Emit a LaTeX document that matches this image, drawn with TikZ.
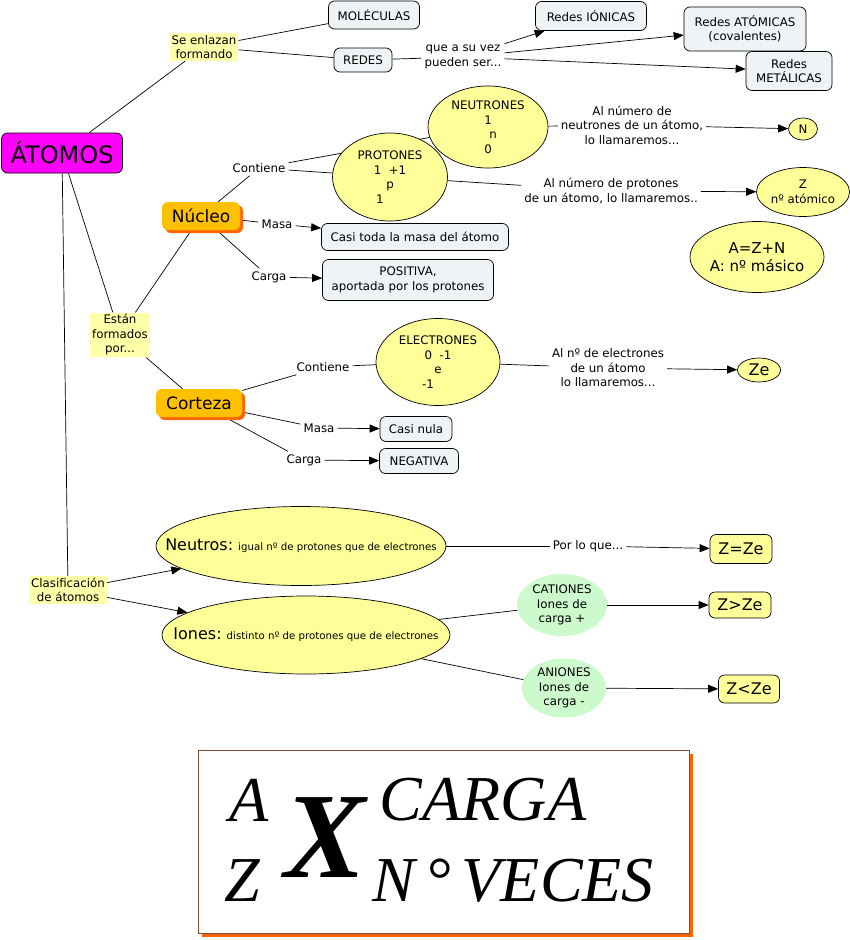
\documentclass[tikz,border=0pt]{standalone}
\usepackage{fontspec}
\setmainfont{DejaVu Sans}
\newfontfamily\formulafont{Liberation Serif}
\usetikzlibrary{arrows.meta,shapes.geometric,backgrounds,shadows}
\definecolor{Magenta}{HTML}{FF00FF}
\definecolor{LYellow}{HTML}{FFFFAA}
\definecolor{EYellow}{HTML}{FFFF99}
\definecolor{CGray}{HTML}{EEF3F6}
\definecolor{NOrange}{HTML}{FFC000}
\definecolor{DOrange}{HTML}{FF6600}
\definecolor{LGreen}{HTML}{CCFACC}
\definecolor{Edge}{HTML}{7F4F2F}

\begin{document}
\begin{tikzpicture}[x=1pt, y=-1pt, font=\fontsize{11.8}{14.5}\selectfont,
    concepto/.style={draw, line width=0.7pt, rounded corners=6pt, fill=CGray, align=center, inner sep=1pt},
    enlace/.style={align=center, inner sep=3pt},
    enlacefondo/.style={align=center, inner sep=2pt, fill=LYellow},
    particula/.style={ellipse, draw, line width=0.7pt, fill=EYellow, align=center, inner sep=0pt},
    ion/.style={ellipse, fill=LGreen, align=center, inner sep=0pt},
    resultado/.style={draw, line width=0.7pt, rounded corners=6pt, fill=EYellow, align=center, inner sep=0pt, font=\fontsize{16}{18}\selectfont},
    parte/.style={rounded corners=6pt, fill=NOrange, inner sep=0pt, font=\fontsize{17}{20}\selectfont,
        drop shadow={shadow xshift=3pt, shadow yshift=-3pt, fill=DOrange, opacity=1}},
    simbolo/.style={inner sep=0pt, font=\formulafont\itshape\fontsize{64}{64}\selectfont},
    linea/.style={line width=0.7pt},
    flecha/.style={linea, -{Triangle[length=10pt, width=8pt]}}
]
\useasboundingbox (0,0) rectangle (850,940);

% concepto principal
\node[concepto, fill=Magenta, minimum width=121pt, minimum height=40pt, font=\fontsize{24}{28}\selectfont] (atomos) at (62,153) {ÁTOMOS};

% enlaces
\node[enlacefondo] (enlazan) at (204,47) {Se enlazan\\formando};
\node[concepto, minimum width=91pt, minimum height=28pt] (moleculas) at (374,15) {MOLÉCULAS};
\node[concepto, minimum width=58pt, minimum height=24pt] (redes) at (363,60) {REDES};
\node[enlace] (puedenser) at (463,57) {que a su vez\\pueden ser...};
\node[concepto, minimum width=111pt, minimum height=29pt] (ionicas) at (591,16) {Redes IÓNICAS};
\node[concepto, minimum width=122pt, minimum height=44pt] (atomicas) at (745,29) {Redes ATÓMICAS\\(covalentes)};
\node[concepto, minimum width=86pt, minimum height=39pt] (metalicas) at (789,71) {Redes\\METÁLICAS};

% nucleo
\node[particula, minimum width=120pt, minimum height=82pt] (neutrones) at (488,127) {NEUTRONES\\1\\\hspace*{10pt}n\\0};
\node[particula, minimum width=115pt, minimum height=88pt] (protones) at (390,177) {PROTONES\\1~~+1\\p\\1\hspace*{20pt}};
\node[enlace] (alneutrones) at (632,125) {Al número de\\neutrones de un átomo,\\lo llamaremos...};
\node[particula, minimum width=29pt, minimum height=22pt] (nneutrones) at (803,129) {N};
\node[enlace] (alprotones) at (611,191) {Al número de protones\\de un átomo, lo llamaremos..};
\node[particula, minimum width=93pt, minimum height=49pt] (zatomico) at (803,192) {Z\\nº atómico};
\node[particula, minimum width=134pt, minimum height=71pt, font=\fontsize{15}{18}\selectfont] (masico) at (757,257) {A=Z+N\\A: nº másico};

\node[parte, minimum width=78pt, minimum height=28pt] (nucleo) at (201,216) {Núcleo};
\node[enlace] (contiene) at (259,168) {Contiene};
\node[enlace] (masan) at (277,224) {Masa};
\node[enlace] (cargan) at (269,277) {Carga};
\node[concepto, minimum width=187pt, minimum height=27pt] (casitoda) at (415,237) {Casi toda la masa del átomo};
\node[concepto, minimum width=171pt, minimum height=41pt] (positiva) at (408,280) {POSITIVA,\\aportada por los protones};

\node[enlacefondo] (formados) at (120,335) {Están\\formados\\por...};

% corteza
\node[parte, minimum width=86pt, minimum height=28pt] (corteza) at (199,403) {Corteza};
\node[enlace] (contienec) at (323,367) {Contiene};
\node[particula, minimum width=124pt, minimum height=87pt] (electrones) at (438,362) {ELECTRONES\\0~~-1\\e\\-1\hspace*{20pt}};
\node[enlace] (alelectrones) at (608,368) {Al nº de electrones\\de un átomo\\lo llamaremos...};
\node[particula, minimum width=43pt, minimum height=24pt, font=\fontsize{16}{18}\selectfont] (ze) at (759,370) {Ze};
\node[enlace] (masac) at (319,428) {Masa};
\node[enlace] (cargac) at (304,460) {Carga};
\node[concepto, minimum width=72pt, minimum height=25pt] (casinula) at (416,429) {Casi nula};
\node[concepto, minimum width=79pt, minimum height=25pt] (negativa) at (419,461) {NEGATIVA};

% clasificacion
\node[enlacefondo] (clasificacion) at (68,590) {Clasificación\\de átomos};
\node[particula, minimum width=290pt, minimum height=79pt] (neutros) at (301,546) {\makebox[0pt]{{\fontsize{16}{18}\selectfont Neutros:} {\fontsize{10.2}{12}\selectfont igual nº de protones que de electrones}}};
\node[particula, minimum width=288pt, minimum height=78pt] (iones) at (306,635) {\makebox[0pt]{{\fontsize{16}{18}\selectfont Iones:} {\fontsize{10.2}{12}\selectfont distinto nº de protones que de electrones}}};
\node[enlace] (porloque) at (588,546) {Por lo que...};
\node[resultado, minimum width=62pt, minimum height=29pt] (igual) at (741,549) {Z=Ze};
\node[ion, minimum width=90pt, minimum height=62pt] (cationes) at (562,605) {CATIONES\\Iones de\\carga +};
\node[ion, minimum width=84pt, minimum height=59pt] (aniones) at (564,688) {ANIONES\\Iones de\\carga -};
\node[resultado, minimum width=62pt, minimum height=26pt] (mayor) at (740,605) {Z>Ze};
\node[resultado, minimum width=61pt, minimum height=28pt] (menor) at (749,689) {Z<Ze};

% notacion
\node[draw=Edge, line width=0.6pt, fill=white, minimum width=491pt, minimum height=183pt, inner sep=0pt,
    drop shadow={shadow xshift=4pt, shadow yshift=-4pt, fill=DOrange, opacity=1}] (formula) at (443.5,841.5) {};
\node[simbolo] (masa) at (249,800) {A};
\node[simbolo] (numero) at (242,881) {Z};
\node[simbolo, font=\formulafont\bfseries\itshape\fontsize{122}{122}\selectfont] (elemento) at (325,838) {X};
\node[simbolo] (carga) at (483,800) {CARGA};
\node[simbolo] (veces) at (513,881) {N\,°\,VECES};

\begin{scope}[on background layer]
\draw[linea] (atomos) -- (enlazan);
\draw[linea] (enlazan) -- (moleculas);
\draw[linea] (enlazan) -- (redes);
\draw[linea] (redes) -- (puedenser);
\draw[flecha] (puedenser) -- (ionicas);
\draw[flecha] (puedenser) -- (atomicas);
\draw[flecha] (puedenser) -- (metalicas);
\draw[linea] (atomos) -- (formados);
\draw[linea] (atomos) -- (clasificacion);
\draw[linea] (formados) -- (nucleo);
\draw[linea] (formados) -- (corteza);
\draw[linea] (nucleo) -- (contiene);
\draw[linea] (contiene) -- (protones);
\draw[linea] (contiene) -- (neutrones);
\draw[linea] (neutrones) -- (alneutrones);
\draw[flecha] (alneutrones) -- (nneutrones);
\draw[linea] (protones) -- (alprotones);
\draw[flecha] (alprotones) -- (zatomico);
\draw[linea] (nucleo) -- (masan);
\draw[flecha] (masan) -- (casitoda);
\draw[linea] (nucleo) -- (cargan);
\draw[flecha] (cargan) -- (positiva);
\draw[linea] (corteza) -- (contienec);
\draw[linea] (contienec) -- (electrones);
\draw[linea] (electrones) -- (alelectrones);
\draw[flecha] (alelectrones) -- (ze);
\draw[linea] (corteza) -- (masac);
\draw[flecha] (masac) -- (casinula);
\draw[linea] (corteza) -- (cargac);
\draw[flecha] (cargac) -- (negativa);
\draw[flecha] (clasificacion) -- (neutros);
\draw[flecha] (clasificacion) -- (iones);
\draw[linea] (neutros) -- (porloque);
\draw[flecha] (porloque) -- (igual);
\draw[linea] (iones) -- (cationes);
\draw[linea] (iones) -- (aniones);
\draw[flecha] (cationes) -- (mayor);
\draw[flecha] (aniones) -- (menor);
\end{scope}
\end{tikzpicture}
\end{document}
